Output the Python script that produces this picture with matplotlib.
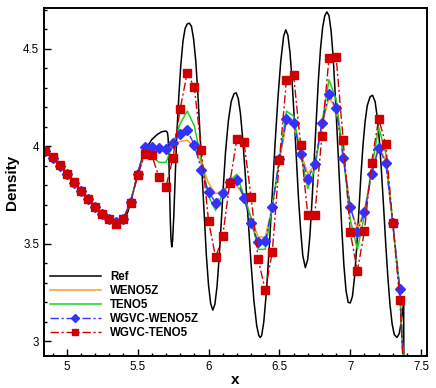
import numpy as np
import matplotlib
matplotlib.use("Agg")
import matplotlib.pyplot as plt
from matplotlib.ticker import MultipleLocator

plt.rcParams['font.family'] = ['Liberation Sans', 'DejaVu Sans']

# grid points of the numerical solutions
x_grid = [4.85, 4.90, 4.95, 5.00, 5.05, 5.10, 5.15, 5.20, 5.25, 5.30,
          5.35, 5.40, 5.45, 5.50, 5.55, 5.60, 5.65, 5.70, 5.75, 5.80,
          5.85, 5.90, 5.95, 6.00, 6.05, 6.10, 6.15, 6.20, 6.25, 6.30,
          6.35, 6.40, 6.45, 6.50, 6.55, 6.60, 6.65, 6.70, 6.75, 6.80,
          6.85, 6.90, 6.95, 7.00, 7.05, 7.10, 7.15, 7.20, 7.25, 7.30,
          7.35, 7.40]

weno5z = [3.976, 3.944, 3.902, 3.859, 3.816, 3.772, 3.730, 3.692, 3.657, 3.633,
          3.618, 3.633, 3.715, 3.850, 3.960, 3.985, 3.985, 3.980, 4.005, 4.025,
          4.032, 3.996, 3.911, 3.812, 3.757, 3.772, 3.800, 3.800, 3.745, 3.640,
          3.535, 3.535, 3.690, 3.925, 4.125, 4.105, 3.970, 3.860, 3.905, 4.110,
          4.250, 4.190, 3.950, 3.690, 3.578, 3.672, 3.865, 4.000, 3.930, 3.605,
          3.262, 2.500]

teno5 = [3.976, 3.943, 3.901, 3.858, 3.815, 3.771, 3.729, 3.690, 3.654, 3.629,
         3.612, 3.630, 3.712, 3.855, 3.965, 3.950, 3.918, 3.918, 4.012, 4.116,
         4.181, 4.105, 3.928, 3.745, 3.672, 3.757, 3.825, 3.857, 3.745, 3.630,
         3.472, 3.472, 3.690, 3.935, 4.181, 4.155, 3.962, 3.783, 3.885, 4.120,
         4.342, 4.240, 3.958, 3.625, 3.472, 3.645, 3.880, 4.099, 3.965, 3.600,
         3.245, 2.500]

wgvc_weno5z = [3.975, 3.942, 3.900, 3.857, 3.814, 3.770, 3.728, 3.690, 3.654, 3.630,
               3.614, 3.630, 3.715, 3.856, 3.996, 3.996, 3.991, 3.985, 4.017, 4.065,
               4.082, 4.008, 3.880, 3.766, 3.712, 3.759, 3.815, 3.826, 3.736, 3.606,
               3.509, 3.514, 3.690, 3.937, 4.142, 4.120, 3.962, 3.834, 3.908, 4.120,
               4.268, 4.195, 3.942, 3.691, 3.561, 3.662, 3.856, 3.994, 3.916, 3.605,
               3.270, 2.500]

wgvc_teno5 = [3.978, 3.945, 3.902, 3.859, 3.816, 3.771, 3.728, 3.688, 3.651, 3.626,
              3.604, 3.626, 3.711, 3.851, 3.962, 3.955, 3.844, 3.793, 3.943, 4.193,
              4.377, 4.304, 3.979, 3.619, 3.431, 3.539, 3.811, 4.036, 4.021, 3.742,
              3.421, 3.263, 3.458, 3.928, 4.343, 4.368, 4.005, 3.650, 3.650, 4.055,
              4.455, 4.460, 4.033, 3.559, 3.361, 3.567, 3.915, 4.140, 4.014, 3.605,
              3.210, 2.500]

# reference solution
ref_x = [4.84, 4.90, 4.95, 5.00, 5.05, 5.10, 5.15, 5.20, 5.25, 5.30,
         5.33, 5.35, 5.37, 5.39, 5.41, 5.43, 5.45, 5.47, 5.50, 5.53,
         5.56, 5.60, 5.64, 5.67, 5.70, 5.71, 5.715, 5.72, 5.725, 5.73,
         5.735, 5.741, 5.747, 5.755, 5.765, 5.775, 5.79, 5.805, 5.82, 5.835,
         5.85, 5.865, 5.88, 5.895, 5.91, 5.925, 5.94, 5.955, 5.97, 5.985,
         6.00, 6.015, 6.03, 6.045, 6.06, 6.075, 6.09, 6.105, 6.12, 6.14,
         6.16, 6.18, 6.195, 6.21, 6.225, 6.24, 6.26, 6.28, 6.30, 6.32,
         6.34, 6.355, 6.365, 6.375, 6.39, 6.41, 6.43, 6.45, 6.47, 6.49,
         6.51, 6.53, 6.545, 6.56, 6.575, 6.59, 6.605, 6.62, 6.635, 6.65,
         6.665, 6.683, 6.70, 6.715, 6.73, 6.745, 6.76, 6.775, 6.79, 6.805,
         6.82, 6.835, 6.85, 6.865, 6.88, 6.895, 6.91, 6.925, 6.94, 6.955,
         6.97, 6.985, 7.00, 7.015, 7.03, 7.045, 7.06, 7.075, 7.09, 7.105,
         7.12, 7.14, 7.157, 7.175, 7.19, 7.205, 7.22, 7.235, 7.25, 7.265,
         7.28, 7.295, 7.31, 7.33, 7.345, 7.36, 7.37, 7.377, 7.378]
ref_y = [3.984, 3.944, 3.903, 3.860, 3.815, 3.771, 3.729, 3.692, 3.657, 3.627,
         3.610, 3.603, 3.603, 3.610, 3.628, 3.662, 3.710, 3.770, 3.860, 3.935,
         3.990, 4.035, 4.062, 4.075, 4.079, 4.072, 4.045, 3.950, 3.800, 3.640,
         3.530, 3.485, 3.520, 3.640, 3.840, 4.040, 4.250, 4.420, 4.540, 4.605,
         4.628, 4.632, 4.615, 4.550, 4.440, 4.270, 4.060, 3.850, 3.640, 3.440,
         3.290, 3.195, 3.160, 3.190, 3.280, 3.430, 3.610, 3.800, 3.970, 4.130,
         4.230, 4.270, 4.275, 4.245, 4.170, 4.050, 3.850, 3.620, 3.400, 3.210,
         3.080, 3.030, 3.020, 3.030, 3.100, 3.270, 3.500, 3.760, 4.020, 4.250,
         4.440, 4.565, 4.598, 4.570, 4.480, 4.330, 4.140, 3.930, 3.730, 3.570,
         3.440, 3.378, 3.420, 3.540, 3.720, 3.930, 4.140, 4.340, 4.500, 4.610,
         4.670, 4.690, 4.670, 4.590, 4.450, 4.250, 4.030, 3.800, 3.580, 3.390,
         3.260, 3.200, 3.197, 3.230, 3.330, 3.480, 3.660, 3.850, 4.010, 4.130,
         4.210, 4.255, 4.262, 4.230, 4.150, 4.030, 3.870, 3.690, 3.500, 3.330,
         3.190, 3.090, 3.035, 3.020, 3.040, 3.100, 3.160, 3.205, 2.500]

fig = plt.figure(figsize=(4.36, 3.88), dpi=100)
ax = fig.add_axes([0.101, 0.083, 0.878, 0.896])

dashdot = (0, (6, 2, 1.5, 2))
ax.plot(ref_x, ref_y, color='black', lw=1.1, label='Ref')
ax.plot(x_grid, weno5z, color='#ff9933', lw=1.1, label='WENO5Z')
ax.plot(x_grid, teno5, color='#1ed21e', lw=1.1, label='TENO5')
ax.plot(x_grid, wgvc_weno5z, color='#3333ff', lw=1.0, ls=dashdot,
        marker='D', ms=5, mec='#3333ff', mfc='#3333ff', label='WGVC-WENO5Z')
ax.plot(x_grid, wgvc_teno5, color='#d00000', lw=1.0, ls=dashdot,
        marker='s', ms=5.5, mec='#d00000', mfc='#d00000', label='WGVC-TENO5')

ax.set_xlim(4.84, 7.54)
ax.set_ylim(2.926, 4.709)
ax.xaxis.set_major_locator(MultipleLocator(0.5))
ax.xaxis.set_minor_locator(MultipleLocator(0.1))
ax.yaxis.set_major_locator(MultipleLocator(0.5))
ax.yaxis.set_minor_locator(MultipleLocator(0.1))
ax.xaxis.set_major_formatter(plt.FuncFormatter(lambda v, p: f'{v:g}'))
ax.yaxis.set_major_formatter(plt.FuncFormatter(lambda v, p: f'{v:g}'))
ax.tick_params(which='both', direction='in', labelsize=8.3, width=1.0)
ax.tick_params(which='major', length=5)
ax.tick_params(which='minor', length=2.5)
for s in ax.spines.values():
    s.set_linewidth(1.4)

ax.set_xlabel('x', fontsize=11, fontweight='bold', labelpad=0)
ax.set_ylabel('Density', fontsize=11, fontweight='bold', labelpad=3)

leg = ax.legend(loc='lower left', bbox_to_anchor=(-0.012, 0.018), frameon=False,
                prop={'size': 8.3, 'weight': 'bold'}, handlelength=4.4,
                handletextpad=0.8, labelspacing=0.17, numpoints=1,
                markerscale=0.8)

fig.savefig('out.png', dpi=100)
